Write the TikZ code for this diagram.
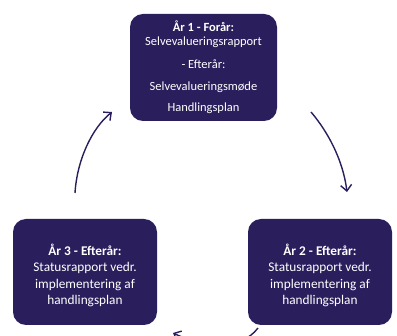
\documentclass[tikz,border=0pt]{standalone}
\usepackage{fontspec}
\setmainfont{Carlito}
\usetikzlibrary{arrows.meta}
\definecolor{navy}{HTML}{2A1E5C}
\begin{document}
\begin{tikzpicture}[x=1pt,y=-1pt,
  box/.style={fill=navy, rounded corners=13pt, text=white, align=center, inner sep=0pt},
  topfont/.style={font=\fontsize{12.5}{14}\selectfont},
  lowfont/.style={font=\fontsize{13.3}{16.5}\selectfont},
  cyc/.style={draw=navy, line width=1.4pt, -{Straight Barb[length=6pt,width=11pt]}}]
\useasboundingbox (0,0) rectangle (397,336);
\clip (0,0) rectangle (397,336);
\node[box, topfont, minimum width=147pt, minimum height=107pt] (y1) at (203.5,67.5)
  {\textbf{År 1 - Forår:}\\Selvevalueringsrapport\\[9pt]- Efterår:\\[8pt]Selvevalueringsmøde\\[7pt]Handlingsplan};
\node[box, lowfont, minimum width=144pt, minimum height=106pt] (y3) at (85,272)
  {\rule{0pt}{18pt}\textbf{År 3 - Efterår:}\\Statusrapport vedr.\\implementering af\\handlingsplan};
\node[box, lowfont, minimum width=144pt, minimum height=106pt] (y2) at (320,272)
  {\rule{0pt}{18pt}\textbf{År 2 - Efterår:}\\Statusrapport vedr.\\implementering af\\handlingsplan};
\coordinate (a1s) at (75,193);
\coordinate (a1e) at (112,112);
\coordinate (a2s) at (311,112);
\coordinate (a2e) at (347,192);
\coordinate (a3s) at (258,328);
\coordinate (a3e) at (173,333);
\draw[cyc] (a1s) .. controls (77,160) and (92,128) .. (a1e);
\draw[cyc] (a2s) .. controls (328,132) and (343,160) .. (a2e);
\draw[cyc] (a3s) .. controls (240,352) and (200,346) .. (a3e);
\end{tikzpicture}
\end{document}
